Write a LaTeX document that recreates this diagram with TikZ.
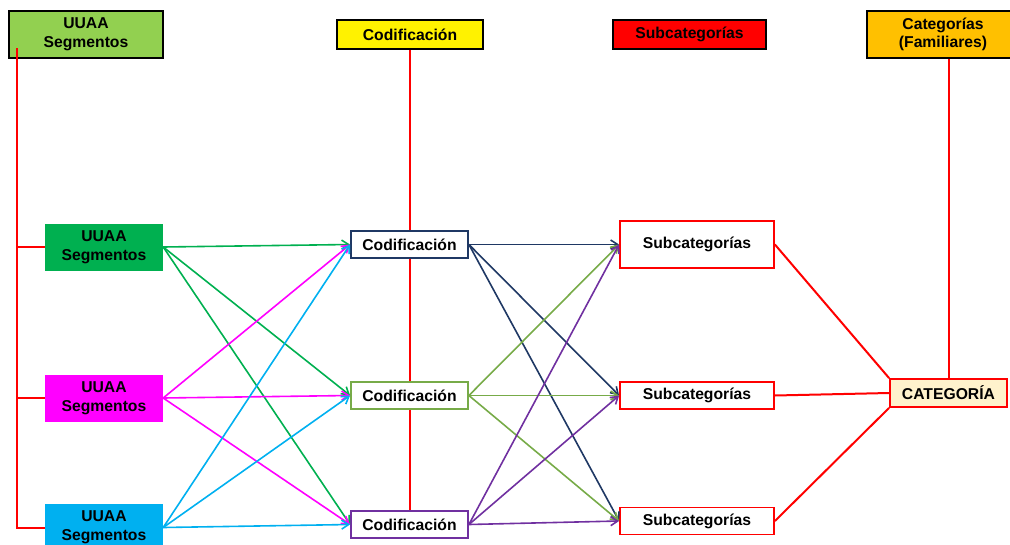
\documentclass[tikz,border=0pt]{standalone}
\usepackage{fontspec}
\setmainfont{Liberation Sans}
\usetikzlibrary{arrows.meta}
\definecolor{hdrgreen}{HTML}{92D050}
\definecolor{hdrorange}{HTML}{FFC000}
\definecolor{segA}{HTML}{00B050}
\definecolor{segB}{HTML}{FF00FF}
\definecolor{segC}{HTML}{00B0F0}
\definecolor{codA}{HTML}{1F3864}
\definecolor{codB}{HTML}{77AB48}
\definecolor{codC}{HTML}{7030A0}
\definecolor{catfill}{HTML}{FFF2CC}

\begin{document}
\begin{tikzpicture}[x=1pt,y=-1pt,
  every node/.style={font=\fontsize{15.7}{18.7}\selectfont\bfseries,align=center,inner sep=0pt},
  header/.style={draw=black,line width=2pt,minimum height=29pt},
  segbox/.style={minimum width=118pt,minimum height=47pt},
  codbox/.style={fill=white,line width=1.8pt,minimum width=117pt,minimum height=27pt},
  subbox/.style={draw=red,fill=white,line width=1.8pt,minimum width=154pt,minimum height=27pt},
  redline/.style={draw=red,line width=2pt},
  flow/.style={line width=1.6pt,-{Straight Barb[length=7pt,width=9pt]}}]

\useasboundingbox (0,0) rectangle (1010,544);

% headers
\node[header,fill=hdrgreen,minimum width=154pt,minimum height=47pt] (hdruuaa) at (86,34.5) {UUAA\\Segmentos};
\node[header,fill=yellow,minimum width=146pt] (hdrcod) at (410,34.5) {Codificación};
\node[header,fill=red,minimum width=153pt] (hdrsub) at (689.5,34.5) {Subcategorías};
\node[header,fill=hdrorange,minimum width=152pt,minimum height=47pt] (hdrcat) at (943,34.5) {Categorías\\(Familiares)};

% segments
\node[segbox,fill=segA] (seg1) at (104,247) {UUAA\\Segmentos};
\node[segbox,fill=segB] (seg2) at (104,398) {UUAA\\Segmentos};
\node[segbox,fill=segC] (seg3) at (104,527.5) {UUAA\\Segmentos};

% codes
\node[codbox,draw=codA] (cod1) at (409.5,244.5) {Codificación};
\node[codbox,draw=codB] (cod2) at (409.5,395.5) {Codificación};
\node[codbox,draw=codC] (cod3) at (409.5,524.5) {Codificación};

% subcategories
\node[subbox,minimum height=47pt] (sub1) at (697,244.5) {Subcategorías};
\node[subbox] (sub2) at (697,395.5) {Subcategorías};
\node[subbox] (sub3) at (697,521) {Subcategorías};

\node[draw=red,fill=catfill,line width=1.8pt,minimum width=117pt,minimum height=28pt] (cat) at (948.5,393) {CATEGORÍA};

% red guide lines
\coordinate (uuaaline) at (17,48);
\draw[redline] (uuaaline) |- (seg3.west) (uuaaline) |- (seg1.west) (uuaaline) |- (seg2.west);
\draw[redline] (hdrcod.south -| cod1.north) -- (cod1.north);
\draw[redline] (cod1.south) -- (cod2.north);
\draw[redline] (cod2.south) -- (cod3.north);
\draw[redline] (cat.north) -- (cat.north |- hdrcat.south);
\draw[redline] (sub1.east) -- (cat.north west);
\draw[redline] (sub2.east) -- (cat.west);
\draw[redline] (sub3.east) -- (cat.south west);

% segments to codes
\foreach \s/\c in {seg1/segA,seg2/segB,seg3/segC}
{%
    \foreach \k in {1,2,3}
    {%
      \draw[flow,draw=\c] (\s.east) -- (cod\k.west);
    }
}

% codes to subcategories
\foreach \k/\c in {1/codA,2/codB,3/codC}
{%
    \foreach \j in {1,2,3}
    {%
      \draw[flow,draw=\c] (cod\k.east) -- (sub\j.west);
    }
}

\end{tikzpicture}
\end{document}
